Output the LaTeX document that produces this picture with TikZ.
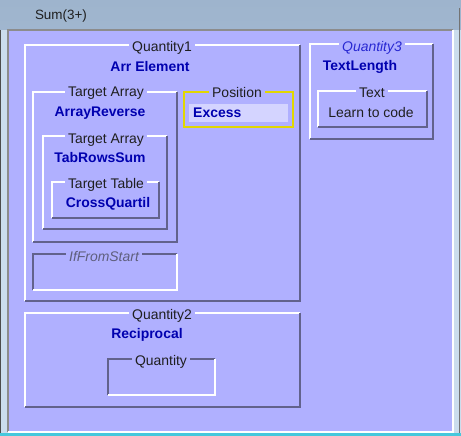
\documentclass[tikz,border=0pt]{standalone}
\usepackage{fontspec}
\setmainfont{Liberation Sans}
\definecolor{panel}{RGB}{176,176,255}
\definecolor{shade}{RGB}{98,98,140}
\definecolor{valblue}{RGB}{0,0,175}
\definecolor{italblue}{RGB}{40,40,210}
\definecolor{italgray}{RGB}{95,95,125}
\definecolor{posyellow}{RGB}{225,215,0}
\definecolor{excessfill}{RGB}{212,212,255}
\definecolor{frametop}{RGB}{158,180,205}
\definecolor{framebot}{RGB}{190,212,232}
\definecolor{framecyan}{RGB}{70,200,220}
\tikzset{
  hi/.style={draw=white,line width=1.6bp},
  lo/.style={draw=shade,line width=1.6bp},
  lbl/.style={fill=panel,inner xsep=3bp,inner ysep=0bp,text=black!88,font=\fontsize{14}{16}\selectfont},
  val/.style={inner sep=0bp,text=valblue,font=\fontsize{14}{16}\selectfont\bfseries},
  plain/.style={inner sep=0bp,text=black!88,font=\fontsize{14}{16}\selectfont},
}
\newcommand\gbRaised[5]{%
  \path (#2,#3) coordinate (#1-nw) (#4,#5) coordinate (#1-se)
        (#4,#3) coordinate (#1-ne) (#2,#5) coordinate (#1-sw);
  \draw[hi] (#1-sw) -- (#1-nw) -- (#1-ne);
  \draw[lo] (#1-ne) -- (#1-se) -- (#1-sw);}
\newcommand\gbSunken[5]{%
  \path (#2,#3) coordinate (#1-nw) (#4,#5) coordinate (#1-se)
        (#4,#3) coordinate (#1-ne) (#2,#5) coordinate (#1-sw);
  \draw[lo] (#1-sw) -- (#1-nw) -- (#1-ne);
  \draw[hi] (#1-ne) -- (#1-se) -- (#1-sw);}
\begin{document}
\begin{tikzpicture}[x=1bp,y=-1bp]
\useasboundingbox (0,0) rectangle (461,436);
% window frame
\shade[top color=frametop,bottom color=framebot] (0,0) rectangle (461,436);
\fill[framebot!80!white] (0,30) rectangle (461,436);
\fill[framecyan] (0,433) rectangle (461,436);
\draw[black!70,line width=1bp] (0.8,30) -- (0.8,433);
\draw[black!55,line width=1bp] (459.5,8) -- (459.5,433);
\node[plain,font=\fontsize{13.5}{15}\selectfont] (title) at (61,16) {Sum(3+)};
% panel
\fill[panel] (8,30) rectangle (453,432);
\draw[draw=black!45,line width=1.2bp] (8,432) -- (8,30) -- (453,30);
\draw[draw=white,line width=1.2bp] (453,30) -- (453,432) -- (8,432);
% Quantity1
\gbRaised{q1}{25}{45}{300}{301}
\node[lbl] (q1l) at (162,48) {Quantity1};
\node[val] (q1v) at (150,67) {Arr Element};
% Target Array 1
\gbRaised{ta1}{33}{92}{177}{242}
\node[lbl] (ta1l) at (106,93) {Target Array};
\node[val] (ta1v) at (100,113) {ArrayReverse};
% Target Array 2
\gbRaised{ta2}{43}{136}{167}{229}
\node[lbl] (ta2l) at (106,140) {Target Array};
\node[val] (ta2v) at (100,158) {TabRowsSum};
% Target Table
\gbRaised{tt}{52}{182}{159}{218}
\node[lbl] (ttl) at (106,185) {Target Table};
\node[val] (ttv) at (108,204) {CrossQuartil};
% Position
\draw[draw=posyellow,line width=1.8bp] (184,92) rectangle (293,127);
\node[lbl] (posl) at (237,93) {Position};
\fill[excessfill] (189,104) rectangle (288,122);
\node[val,anchor=west] (posv) at (193,113) {Excess};
% IfFromStart
\gbSunken{ifs}{33}{254}{177}{290}
\node[lbl,text=italgray,font=\fontsize{14}{16}\selectfont\itshape] (ifsl) at (104,257) {IfFromStart};
% Quantity2
\gbRaised{q2}{25}{313}{300}{407}
\node[lbl] (q2l) at (162,316) {Quantity2};
\node[val] (q2v) at (147,335) {Reciprocal};
% Quantity (empty)
\gbSunken{qe}{108}{359}{215}{395}
\node[lbl] (qel) at (161,362) {Quantity};
% Quantity3
\gbRaised{q3}{310}{44}{433}{139}
\node[lbl,text=italblue,font=\fontsize{14}{16}\selectfont\itshape] (q3l) at (372,48) {Quantity3};
\node[val] (q3v) at (360,67) {TextLength};
% Text
\gbRaised{tx}{318}{91}{427}{127}
\node[lbl] (txl) at (372,93) {Text};
\node[plain] (txv) at (371,113) {Learn to code};
\end{tikzpicture}
\end{document}
